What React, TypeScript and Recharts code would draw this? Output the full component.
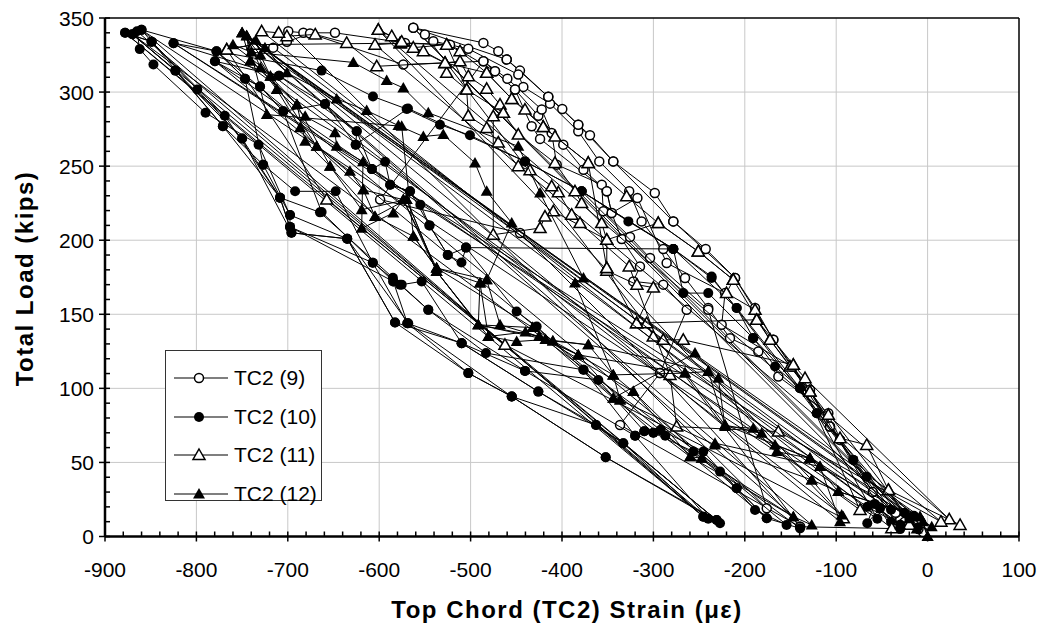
import React from 'react';
import { ScatterChart, Scatter, XAxis, YAxis, ReferenceLine } from 'recharts';

// [strain (microstrain), total load (kips)] in recorded order, one row per load cycle
const TC2_9: [number, number][] = [
  [-5, 3], [-30, 12], [-60, 30], [-95.8, 65.2], [-106.8, 74.2], [-128.7, 99], [-148.7, 114.7],
  [-168.8, 132.8], [-188.8, 154.2], [-210.7, 174.5], [-242.8, 194.1], [-278.2, 212.7], [-298.5, 231.9],
  [-343.9, 253.2], [-369.4, 270.8], [-382.2, 278], [-399.7, 288.6], [-415, 296.8], [-446, 314.5],
  [-460.5, 322], [-469.7, 327.6], [-486, 333.2], [-562.7, 343.4],
  [-15, 8], [-108.6, 83.2], [-163.3, 108], [-185.2, 124.9], [-216.2, 133.9], [-240, 154.2],
  [-265.4, 174.5], [-289.2, 194.1], [-312.9, 212.7], [-326.5, 233], [-359.2, 253.2], [-382.2, 273.5],
  [-413.1, 292.2], [-442.3, 303.5], [-447.8, 311.8], [-502.5, 329.2], [-540.8, 334.3], [-550, 338.9],
  [-139.5, 6.6], [-336.5, 75.3], [-292.8, 110.3], [-263.6, 153], [-289.2, 170], [-322, 172.2],
  [-314.7, 182.3], [-334.7, 200.8], [-345.7, 218.4], [-351, 233], [-376.5, 247.6], [-398.6, 264.5],
  [-425.9, 284], [-451.4, 301.7], [-473.3, 314], [-522.5, 332], [-571.8, 333.2], [-648.4, 340],
  [-683, 340], [-699.5, 341],
  [-176, 19], [-240, 153], [-303.7, 188], [-325.6, 202.2], [-354.8, 219.5], [-356.5, 237.5],
  [-405.8, 251], [-411.3, 272.4], [-422.2, 288.2], [-459.8, 309], [-486, 320.8], [-573.6, 318.6],
  [-675.7, 339.5], [-701, 334], [-716, 330],
  [-25, 10], [-106.8, 74.2], [-148.7, 114.7], [-225.3, 142.9], [-221.6, 164.3], [-285.5, 184.6],
  [-317.5, 228.5], [-345.7, 218.4], [-351, 233], [-424, 268.4], [-433.2, 276.9], [-451.4, 301.7],
  [-473.3, 314], [-486, 320.8], [-599, 227.4], [-445.9, 204.9], [-292.8, 110.3], [-139.5, 6.6],
  [-10, 5], [-95.8, 65.2], [-128.7, 99], [-168.8, 132.8], [-210.7, 174.5], [-278.2, 212.7],
  [-343.9, 253.2], [-382.2, 278], [-415, 296.8], [-460.5, 322], [-562.7, 343.4],
  [-35, 16], [-20, 9],
];

const TC2_10: [number, number][] = [
  [-230.8, 11.1], [-352.2, 53.5], [-455, 94.5], [-502.5, 110.3], [-582.7, 144.5], [-635, 201],
  [-696, 205], [-708.5, 228.7], [-750, 268.6], [-799, 301.7], [-849, 334], [-878, 340],
  [-245.4, 13.4], [-332.9, 63], [-362.8, 75.3], [-425.9, 97.8], [-509.8, 130.5], [-569.2, 144],
  [-607, 184.8], [-697.6, 209], [-697.6, 217], [-727, 251], [-771, 277], [-823, 314.5], [-870, 339],
  [-227.1, 9], [-352.2, 53.5], [-455, 94.5], [-568.2, 144], [-635, 201], [-697.6, 217],
  [-732, 264.5], [-790, 286], [-847, 318.6], [-862, 329], [-865, 341],
  [-240, 12], [-320, 68], [-440.5, 111.8], [-546.3, 153], [-585, 174.7], [-664.8, 218.8],
  [-708.5, 228.7], [-769, 284], [-849, 334], [-860, 342],
  [-245.4, 13.4], [-362.8, 75.3], [-455, 94.5], [-502.5, 110.3], [-569.2, 144], [-584.6, 172.2],
  [-697.6, 209], [-708.5, 228.7], [-771, 277], [-849, 334], [-878, 340],
  [-230.8, 11.1], [-333, 63], [-425.9, 97.8], [-509.8, 130.5], [-582.7, 144.5], [-635, 201],
  [-696, 205], [-750, 268.6], [-823, 314.5], [-870, 339],
  [-139.5, 5.5], [-176, 12.3], [-208.9, 32.6], [-256.3, 57.3], [-300, 70], [-376.5, 112.5],
  [-483.2, 123.8], [-546.3, 153], [-577.3, 170], [-607, 184.8], [-647.6, 233], [-692, 233],
  [-727, 251], [-746.8, 309], [-778, 327.6],
  [-154.3, 7.8], [-188.8, 17.9], [-227.1, 43.8], [-287, 68], [-310, 71], [-360.3, 105.7],
  [-440.5, 111.8], [-509.8, 130.5], [-553.5, 172.2], [-575.4, 170], [-584.6, 172.2], [-663, 219],
  [-705, 287], [-730.4, 303.7], [-779.7, 320.8],
  [-176, 12.3], [-208.9, 32.6], [-245.4, 57.3], [-292, 72], [-300, 70], [-310, 71], [-320, 68],
  [-376.5, 112.5], [-427.7, 141.8], [-449.6, 151.9], [-505, 195], [-525, 190], [-545, 210],
  [-566.3, 233], [-588, 237.5], [-608, 248], [-625.7, 264.5], [-659.3, 292], [-709.6, 311], [-825, 333],
  [-15, 14], [-81.3, 51.7], [-121.3, 83.2], [-139.5, 100.1], [-166.9, 114.7], [-190.7, 133.9],
  [-208.9, 154.2], [-236.3, 174.5], [-278.2, 194.1], [-327.4, 212.7], [-378.5, 233], [-440.5, 253.2],
  [-500.7, 270.8], [-533.5, 278], [-570, 288.6], [-606.8, 297], [-663, 314.5], [-825, 333],
  [-40, 18], [-66.6, 40.4], [-139.5, 100.1], [-191, 134], [-240, 164.3], [-267.3, 164.3],
  [-278.2, 194.1], [-378.5, 233], [-440.5, 253.2], [-568.5, 288.9], [-625.7, 264.5], [-624.6, 273.5],
  [-659.3, 292], [-705, 287], [-730.4, 303.7], [-746.8, 309], [-778, 327.6], [-860, 342],
  [-55, 12], [-121.3, 83.2], [-236.3, 175.5], [-278.2, 194.1], [-505, 195], [-510, 185], [-525, 190],
  [-545, 210], [-555, 224], [-566.3, 233], [-588, 237.5], [-593.6, 253], [-608, 248], [-624.6, 273.5],
  [-709.6, 311], [-779.7, 320.8],
  [-66, 20], [-30, 8], [-11, 6], [-25, 16], [-40, 10], [-52, 19], [-66, 9], [-58, 22], [-30, 5],
  [-81.3, 51.7], [-139.5, 100.1], [-208.9, 154.2], [-278.2, 194.1], [-378.5, 233], [-20, 12],
];

const TC2_11: [number, number][] = [
  [35.5, 7.8], [-42.9, 31.4], [-66.6, 61.8], [-95.8, 66.4], [-108.6, 82.1], [-128.7, 97.8],
  [-150.5, 114.7], [-172.4, 132.8], [-187, 146.3], [-188.8, 153], [-220, 164.3], [-212.6, 173.3],
  [-250.9, 192.4], [-294.7, 211.6], [-329.3, 229.6], [-371.3, 252.2], [-407.7, 270], [-420.5, 276.5],
  [-440.5, 288.2], [-455, 295.4], [-482.4, 313], [-511.6, 327.6], [-526.2, 332], [-562.7, 330],
  [-586.3, 337.7], [-601, 342],
  [23.7, 11.6], [-134.1, 106.9], [-146.9, 115.9], [-267.3, 132.8], [-289.2, 132.8], [-300.2, 135],
  [-307.4, 144], [-318.4, 144], [-300, 168], [-318, 170], [-351, 179.4], [-351, 181.2], [-351, 200.3],
  [-356.6, 211.6], [-378.5, 225.1], [-385.8, 233], [-407.7, 252.2], [-447.8, 271.3], [-464.2, 286],
  [-467.8, 291.6], [-482.4, 302.2], [-502.5, 310.7], [-511.6, 320.8], [-528, 319.7], [-551.7, 327.6],
  [-577, 333], [-604.6, 332],
  [14.6, 10], [-163.3, 70.8], [-274.5, 74.2], [-281.8, 109.1], [-326.5, 182.3], [-380.3, 211.6],
  [-389.4, 217.2], [-404, 232.3], [-411.3, 236.4], [-435, 247.2], [-447.8, 250], [-469.7, 266],
  [-482.4, 275.8], [-502.5, 284], [-504.3, 301.7], [-526.2, 313], [-528, 319.7], [-602.7, 317.4],
  [-635.6, 333.2], [-670, 338.9], [-701, 337.7], [-710, 340], [-728.6, 341],
  [-39.2, 5.5], [-128.7, 97.8], [-172.4, 132.8], [-212.6, 173.3], [-250.9, 192.4], [-294.7, 211.6],
  [-351, 200.3], [-409.5, 219.5], [-418.6, 216], [-424, 208.2], [-475.2, 203.7], [-475.2, 283.6],
  [-464.2, 286], [-504.3, 301.7], [-526.2, 332], [-577, 333], [-737.7, 332], [-766.8, 328.7],
  [-73.9, 17.9], [-146.9, 115.9], [-187, 146.3], [-318.4, 144], [-351, 181.2], [-371.3, 252.2],
  [-420.5, 276.5], [-455, 295.4], [-482.4, 313], [-528, 319.7], [-575.4, 334], [-601, 342],
  [-92.2, 12.3], [-462.4, 129.4], [-657.4, 227.4], [-766.8, 328.7], [-737.7, 332],
  [-42.9, 31.4], [-20, 8],
];

const TC2_12: [number, number][] = [
  [0, 0], [-8.3, 13.4], [-97.7, 30.3], [-126.8, 38.2], [-232.6, 61.8], [-336.5, 92.2],
  [-343.9, 109.1], [-382.2, 122.6], [-410, 132], [-432, 141], [-491.6, 142.9], [-537.2, 178.9],
  [-570, 227.4], [-619.2, 220.6], [-653.8, 250], [-681, 266.8], [-690, 291.6], [-719, 310.7],
  [-741, 321], [-750, 340],
  [4.5, 6.6], [-117.7, 47.2], [-128.7, 52.8], [-166.9, 61.8], [-181.6, 69.7], [-221.6, 75.3],
  [-240, 111.4], [-265.4, 110.3], [-343.9, 109.1], [-371.2, 129.4], [-418, 133], [-449.6, 131.6],
  [-480.6, 135], [-489.7, 171.1], [-537.2, 181.2], [-562.6, 202.6], [-604.6, 216], [-617.4, 234],
  [-632, 246.5], [-668.4, 263.4], [-686.6, 276], [-712, 301.7], [-730, 316.5], [-745, 338],
  [-8.3, 13.4], [-97.7, 30.3], [-128.7, 52.8], [-165, 57.3], [-190.7, 73.1], [-221.6, 74.2],
  [-229, 106.9], [-254.5, 123.8], [-343.9, 93.4], [-336.5, 92.2], [-382.2, 122.6], [-425, 135],
  [-467.8, 142.9], [-482.4, 173.3], [-455, 211.6], [-482.4, 233], [-495.2, 252.2], [-529.9, 271.3],
  [-551.7, 270], [-579, 277.4], [-613.7, 287.5], [-646.5, 295.4], [-701, 313], [-725, 330], [-735, 335],
  [-95.8, 10], [-117.7, 47.2], [-232.6, 63], [-247.2, 52.8], [-259.9, 53.9], [-322, 97.8],
  [-344, 109], [-385.8, 171.1], [-376.5, 174.5], [-424, 231.9], [-447.8, 263.4], [-546.3, 286],
  [-573.6, 302.8], [-591.8, 307.8], [-628.3, 320], [-740, 327], [-760, 332],
  [-94, 14.5], [-126.8, 38.2], [-240, 111.4], [-371.2, 129.4], [-410, 132], [-491.6, 142.9],
  [-537.2, 178.9], [-573.6, 227.4], [-584.6, 218.4], [-619.2, 208], [-617.7, 253], [-646.5, 263.4],
  [-648.4, 272.6], [-681, 283.6], [-712, 301.7], [-730, 325], [-750, 340],
  [-146.9, 13.4], [-247.2, 52.8], [-322, 97.8], [-418, 133], [-440, 138], [-480.6, 135],
  [-537.2, 178.9], [-570, 227.4], [-604.6, 216], [-653.8, 250], [-690, 291.6], [-741, 321], [-745, 338],
  [-30, 8], [-128.7, 52.8], [-221.6, 75.3], [-265.4, 110.3], [-382.2, 122.6], [-425, 135],
  [-491.6, 142.9], [-489.7, 171.1], [-482.4, 173.3], [-537.2, 181.2], [-573.6, 227.4], [-617.4, 234],
  [-668.4, 263.4], [-719, 310.7], [-750, 340],
  [-126.8, 7.8], [-146.9, 13.4], [-259.9, 53.9], [-343.9, 93.4], [-432, 141], [-537.2, 181.2],
  [-562.6, 202.6], [-575.4, 276.9], [-723, 284.8], [-745, 338], [-20, 12], [-12, 5], [-5, 10], [0, 0],
];

const X_TICKS = [
  -900, -880, -860, -840, -820, -800, -780, -760, -740, -720, -700, -680, -660, -640, -620, -600,
  -580, -560, -540, -520, -500, -480, -460, -440, -420, -400, -380, -360, -340, -320, -300, -280,
  -260, -240, -220, -200, -180, -160, -140, -120, -100, -80, -60, -40, -20, 0, 20, 40, 60, 80, 100,
];
const Y_TICKS = [
  0, 10, 20, 30, 40, 50, 60, 70, 80, 90, 100, 110, 120, 130, 140, 150, 160, 170, 180, 190, 200,
  210, 220, 230, 240, 250, 260, 270, 280, 290, 300, 310, 320, 330, 340, 350,
];
const X_GRID = [-800, -700, -600, -500, -400, -300, -200, -100, 0];
const Y_GRID = [50, 100, 150, 200, 250, 300];

const FONT = '"Liberation Sans", Arial, sans-serif';

const toPoints = (rows: [number, number][]) => rows.map(([x, y]) => ({ x, y }));

const OpenCircle = (p: any) => (
  <circle cx={p.cx} cy={p.cy} r={4.5} fill="#fff" stroke="#000" strokeWidth={1.5} />
);
const FilledCircle = (p: any) => <circle cx={p.cx} cy={p.cy} r={5} fill="#000" />;
const triPts = (cx: number, cy: number) =>
  `${cx},${cy - 6} ${cx + 6},${cy + 4.5} ${cx - 6},${cy + 4.5}`;
const OpenTriangle = (p: any) => (
  <polygon points={triPts(p.cx, p.cy)} fill="#fff" stroke="#000" strokeWidth={1.5} />
);
const FilledTriangle = (p: any) => <polygon points={triPts(p.cx, p.cy)} fill="#000" />;

const XTick = ({ x, y, payload }: any) => {
  const major = payload.value % 100 === 0;
  return (
    <g>
      <line x1={x} x2={x} y1={y - 5} y2={major ? y + 5 : y} stroke="#000" strokeWidth={1.5} />
      {major && (
        <text x={x} y={y + 40} textAnchor="middle" fontSize={21} fontFamily={FONT} fill="#000">
          {payload.value}
        </text>
      )}
    </g>
  );
};

const YTick = ({ x, y, payload }: any) => {
  const major = payload.value % 50 === 0;
  return (
    <g>
      <line x1={major ? x - 6 : x} x2={x + 5} y1={y} y2={y} stroke="#000" strokeWidth={1.5} />
      {major && (
        <text x={x - 11} y={y + 7.5} textAnchor="end" fontSize={21} fontFamily={FONT} fill="#000">
          {payload.value}
        </text>
      )}
    </g>
  );
};

const LEGEND = [
  { name: 'TC2 (9)', Shape: OpenCircle },
  { name: 'TC2 (10)', Shape: FilledCircle },
  { name: 'TC2 (11)', Shape: OpenTriangle },
  { name: 'TC2 (12)', Shape: FilledTriangle },
];

export default function App() {
  const series = [
    { data: toPoints(TC2_9), shape: OpenCircle },
    { data: toPoints(TC2_10), shape: FilledCircle },
    { data: toPoints(TC2_11), shape: OpenTriangle },
    { data: toPoints(TC2_12), shape: FilledTriangle },
  ];
  return (
    <div style={{ position: 'relative', width: 1030, height: 616, fontFamily: FONT }}>
      <ScatterChart width={1030} height={616} margin={{ top: 10, right: 19, bottom: 27.5, left: 0 }}>
        {X_GRID.map((v) => (
          <ReferenceLine key={'gx' + v} x={v} stroke="#c8c8c8" strokeWidth={1} />
        ))}
        {Y_GRID.map((v) => (
          <ReferenceLine key={'gy' + v} y={v} stroke="#c8c8c8" strokeWidth={1} />
        ))}
        <ReferenceLine y={350} stroke="#000" strokeWidth={1.5} />
        <ReferenceLine x={100} stroke="#000" strokeWidth={1.5} />
        <XAxis
          type="number"
          dataKey="x"
          domain={[-900, 100]}
          ticks={X_TICKS}
          interval={0}
          height={60}
          tickSize={0}
          tickMargin={0}
          tickLine={false}
          axisLine={{ stroke: '#000', strokeWidth: 2.5 }}
          tick={<XTick />}
        />
        <YAxis
          type="number"
          dataKey="y"
          domain={[0, 350]}
          ticks={Y_TICKS}
          interval={0}
          width={97}
          tickSize={0}
          tickMargin={0}
          tickLine={false}
          axisLine={{ stroke: '#000', strokeWidth: 2.5 }}
          tick={<YTick />}
        />
        {series.map((s, i) => (
          <Scatter
            key={i}
            data={s.data}
            shape={s.shape}
            line={{ stroke: '#000', strokeWidth: 1 }}
            lineType="joint"
            isAnimationActive={false}
          />
        ))}
      </ScatterChart>
      <svg
        width={1030}
        height={616}
        style={{ position: 'absolute', left: 0, top: 0, pointerEvents: 'none' }}
      >
        <text
          x={559}
          y={610}
          textAnchor="middle"
          fontSize={24}
          fontWeight="bold"
          letterSpacing={1.5}
          fontFamily={FONT}
        >
          Top Chord (TC2) Strain (με)
        </text>
        <text
          transform="translate(25,270.5) rotate(-90)"
          textAnchor="middle"
          fontSize={24}
          fontWeight="bold"
          letterSpacing={1.5}
          fontFamily={FONT}
        >
          Total Load (kips)
        </text>
      </svg>
      <div
        style={{
          position: 'absolute',
          left: 157,
          top: 342,
          width: 157,
          height: 151,
          border: '1px solid #333',
          background: '#fff',
          boxSizing: 'border-box',
          paddingTop: 8,
        }}
      >
        {LEGEND.map(({ name, Shape }) => (
          <div key={name} style={{ display: 'flex', alignItems: 'center', height: 38.5 }}>
            <svg width={66} height={20} style={{ display: 'block' }}>
              <line x1={8} x2={62} y1={10} y2={10} stroke="#555" strokeWidth={1.5} />
              <Shape cx={33} cy={10} />
            </svg>
            <span style={{ fontSize: 21, color: '#000', marginLeft: 2 }}>{name}</span>
          </div>
        ))}
      </div>
    </div>
  );
}
